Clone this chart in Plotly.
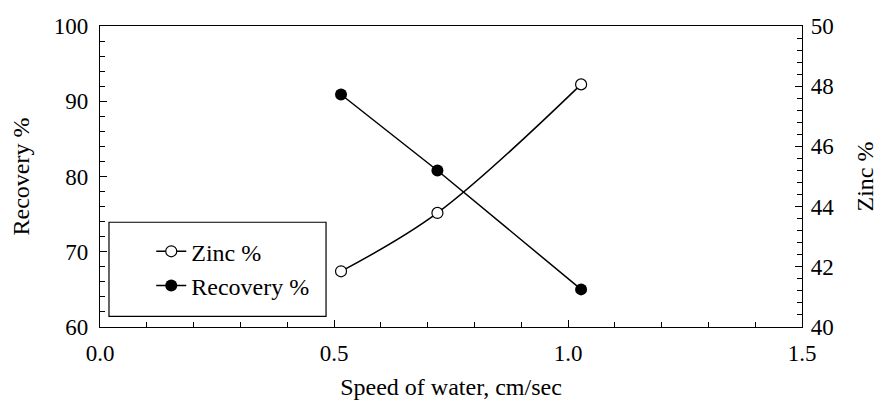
import plotly.graph_objects as go

speed = [0.515, 0.721, 1.028]
zinc = [41.85, 43.79, 48.06]
recovery = [90.9, 80.8, 65.0]

x_ticks = [0.0, 0.5, 1.0, 1.5]
x_ticklabels = ["0.0", "0.5", "1.0", "1.5"]

FONT = "Liberation Serif, Times New Roman, serif"

fig = go.Figure()
fig.add_trace(go.Scatter(
    x=speed, y=zinc, name="Zinc %", yaxis="y2", mode="lines+markers",
    line=dict(color="black", width=1.5, shape="spline", smoothing=1),
    marker=dict(symbol="circle", size=11, color="white", line=dict(color="black", width=1.2)),
))
fig.add_trace(go.Scatter(
    x=speed, y=recovery, name="Recovery %", mode="lines+markers",
    line=dict(color="black", width=1.5),
    marker=dict(symbol="circle", size=12, color="black"),
))

axis_common = dict(
    showline=True, linecolor="black", linewidth=1.2,
    ticks="inside", tickcolor="black", ticklen=7, tickwidth=1,
    showgrid=False, zeroline=False, automargin=False,
    tickfont=dict(family=FONT, size=23, color="black"),
)

# the page body adds an 8px offset, so the figure is 8px smaller
fig.update_layout(
    width=877, height=411,
    margin=dict(l=92, r=83, t=18, b=92),
    paper_bgcolor="white", plot_bgcolor="white",
    font=dict(family=FONT, size=23, color="black"),
    xaxis=dict(
        **axis_common, range=[0, 1.5], tickvals=x_ticks, ticktext=x_ticklabels,
        mirror=True, ticklabelstandoff=5,
        minor=dict(dtick=0.1, ticks="inside", ticklen=5, tickcolor="black"),
        title=dict(text="Speed of water, cm/sec", font=dict(family=FONT, size=24), standoff=13),
    ),
    yaxis=dict(
        **axis_common, range=[60, 100], dtick=10, ticklabelstandoff=6,
        minor=dict(dtick=2, ticks="inside", ticklen=5, tickcolor="black"),
        title=dict(text="Recovery %", font=dict(family=FONT, size=24), standoff=17),
    ),
    yaxis2=dict(
        **axis_common, range=[40, 50], dtick=2, overlaying="y", side="right", ticklabelstandoff=3,
        minor=dict(dtick=0.4, ticks="inside", ticklen=5, tickcolor="black"),
        title=dict(text="Zinc %", font=dict(family=FONT, size=24), standoff=22),
    ),
    legend=dict(
        x=0.073, y=0.325, xanchor="left", yanchor="top",
        bgcolor="rgba(0,0,0,0)", borderwidth=0,
        font=dict(family=FONT, size=24), tracegroupgap=0,
    ),
    shapes=[dict(
        type="rect", xref="paper", yref="paper",
        x0=0.0128, x1=0.322, y0=0.035, y1=0.348,
        line=dict(color="black", width=1.2), fillcolor="white", layer="below",
    )],
    showlegend=True,
)

fig.write_html("out.html")
